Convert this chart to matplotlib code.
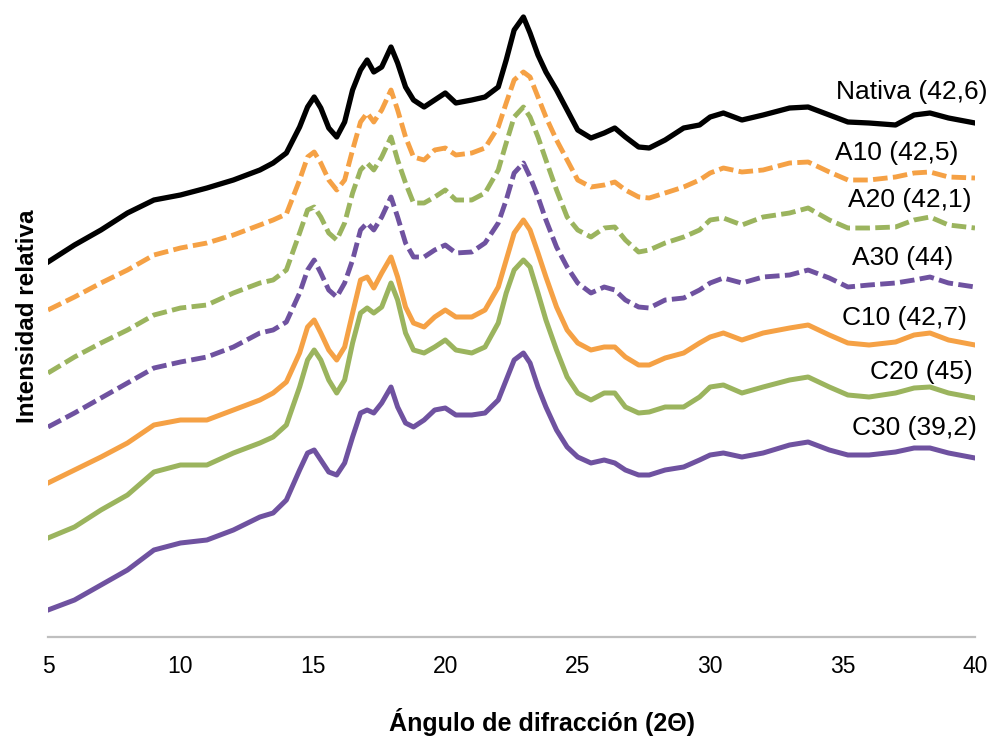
import matplotlib
matplotlib.use("Agg")
import matplotlib.pyplot as plt

# Diffraction angle (2-theta)
angle = [5, 6, 7, 8, 9, 10, 11, 12, 13, 13.5, 14,
         14.5, 14.8, 15.05, 15.3, 15.6, 15.9, 16.2, 16.5, 16.8, 17.05, 17.3, 17.6, 17.95, 18.2, 18.5, 18.8, 19.2, 19.6, 20, 20.4,
         21,
         21.5, 22, 22.3, 22.6, 22.95, 23.2, 23.5, 23.8, 24.2, 24.6, 25, 25.5, 26, 26.4, 26.8, 27.3, 27.7, 28.3,
         29, 29.6, 30, 30.5, 31.2, 32, 33, 33.7, 34.5, 35.2, 36, 37, 37.7, 38.3, 39, 40]

# Relative intensity (offset curves, arbitrary units)
nativa = [375, 392, 407, 424, 437, 442, 449, 457, 467, 474, 484,
          510, 530, 540, 529, 509, 500, 515, 547, 567, 577, 565, 570, 590, 574, 550, 537, 530, 537, 544, 534,
          537,
          540, 550, 577, 607, 620, 604, 582, 565, 547, 527, 507, 499, 504, 509, 500, 490, 489, 497,
          509, 512, 520, 524, 517, 522, 529, 530, 522, 515, 514, 512, 522, 524, 519, 514]
a10 = [327, 340, 354, 367, 382, 389, 394, 402, 412, 417, 423,
       457, 480, 485, 474, 457, 447, 457, 487, 515, 524, 515, 527, 547, 527, 500, 480, 477, 487, 489, 482,
       484,
       489, 510, 534, 557, 565, 560, 540, 520, 497, 477, 457, 450, 452, 455, 447, 440, 439, 444,
       450, 457, 464, 469, 465, 467, 474, 475, 465, 457, 457, 460, 464, 465, 460, 459]
a20 = [264, 280, 294, 307, 322, 329, 332, 344, 354, 357, 367,
       404, 427, 430, 420, 404, 397, 414, 444, 467, 474, 467, 480, 500, 477, 454, 434, 434, 440, 447, 437,
       437,
       444, 467, 494, 520, 530, 520, 500, 477, 447, 420, 407, 400, 409, 410, 397, 385, 387, 394,
       400, 407, 417, 419, 412, 420, 424, 429, 417, 409, 409, 410, 417, 420, 412, 409]
a30 = [210, 224, 239, 254, 269, 275, 280, 290, 304, 307, 315,
       344, 367, 377, 364, 347, 340, 354, 377, 407, 414, 407, 420, 440, 420, 394, 380, 380, 387, 392, 384,
       385,
       394, 414, 437, 464, 474, 460, 440, 417, 390, 370, 354, 344, 350, 347, 337, 330, 329, 337,
       339, 347, 354, 359, 354, 360, 362, 367, 359, 350, 352, 354, 357, 360, 354, 350]
c10 = [154, 167, 180, 194, 212, 217, 217, 227, 237, 244, 255,
       284, 310, 317, 304, 287, 277, 290, 324, 357, 360, 349, 364, 380, 360, 330, 314, 310, 320, 327, 320,
       320,
       327, 350, 377, 404, 417, 407, 384, 360, 330, 307, 294, 287, 290, 290, 280, 272, 272, 279,
       284, 294, 300, 304, 297, 304, 309, 312, 302, 294, 292, 295, 302, 304, 297, 292]
c20 = [99, 110, 127, 142, 165, 172, 172, 184, 194, 200, 212,
       250, 277, 287, 277, 257, 244, 257, 294, 324, 329, 324, 330, 354, 337, 304, 287, 284, 290, 297, 287,
       284,
       290, 314, 344, 367, 377, 370, 344, 317, 287, 260, 244, 237, 244, 244, 230, 224, 225, 230,
       230, 240, 250, 252, 244, 250, 257, 260, 250, 242, 240, 244, 249, 250, 244, 239]
c30 = [27, 37, 52, 67, 87, 94, 97, 107, 120, 124, 137,
       167, 184, 187, 177, 165, 162, 174, 200, 224, 227, 224, 234, 250, 230, 214, 210, 217, 227, 229, 222,
       222,
       224, 237, 257, 277, 284, 274, 250, 230, 207, 190, 180, 174, 177, 174, 167, 162, 162, 167,
       170, 177, 182, 184, 180, 184, 192, 195, 187, 182, 182, 185, 189, 189, 184, 179]

labels = ["Nativa (42,6)", "A10 (42,5)", "A20 (42,1)", "A30 (44)",
          "C10 (42,7)", "C20 (45)", "C30 (39,2)"]
series = [nativa, a10, a20, a30, c10, c20, c30]

colors = ["#000000", "#F5A145", "#9BB45E", "#6F52A0",
          "#F5A145", "#9BB45E", "#6F52A0"]
dashed = [False, True, True, True, False, False, False]
# label anchor (right x in data units, y centre in data units)
label_pos = [(40.49, 545), (39.36, 484), (39.85, 437), (39.17, 379),
             (39.70, 319), (39.92, 265), (40.07, 209)]

fig = plt.figure(figsize=(9.91, 7.38), dpi=100)
ax = fig.add_axes([48 / 991, 101 / 738, 927 / 991, 627 / 738])

for y, c, d in zip(series, colors, dashed):
    if d:
        ax.plot(angle, y, color=c, lw=3.5, dashes=(3.0, 1.1),
                dash_capstyle="butt", dash_joinstyle="round")
    else:
        ax.plot(angle, y, color=c, lw=3.8 if c == "#000000" else 3.6,
                solid_joinstyle="round")

for lab, (lx, ly) in zip(labels, label_pos):
    ax.text(lx, ly, lab, ha="right", va="center", fontsize=19,
            family="Liberation Sans", color="#000000", clip_on=False)

ax.set_xlim(5, 40)
ax.set_ylim(0, 627)
ax.set_xticks([5, 10, 15, 20, 25, 30, 35, 40])
ax.set_yticks([])
for s in ["top", "right", "left"]:
    ax.spines[s].set_visible(False)
ax.spines["bottom"].set_color("#BFBFBF")
ax.spines["bottom"].set_linewidth(1.6)
ax.tick_params(axis="x", length=0, pad=13, labelsize=16.5)
for t in ax.get_xticklabels():
    t.set_family("Liberation Sans")

fig.text(542 / 991, 1 - 722 / 738, "Ángulo de difracción (2Θ)", ha="center", va="center",
         fontsize=18, fontweight="bold", family="Liberation Sans")
fig.text(28 / 991, 1 - 316 / 738, "Intensidad relativa", ha="center", va="center",
         rotation=90, fontsize=17.5, fontweight="bold", family="Liberation Sans")

fig.savefig("out.png", dpi=100)
